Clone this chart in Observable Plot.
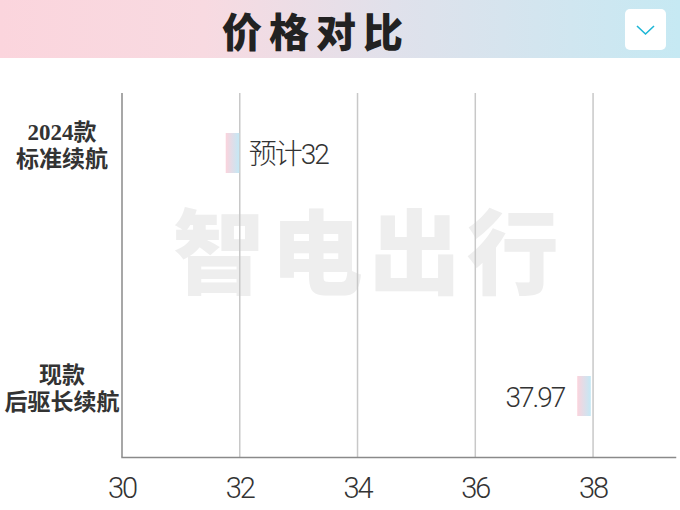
<!DOCTYPE html>
<html>
<head>
<meta charset="utf-8">
<script src="https://cdn.jsdelivr.net/npm/d3@7"></script>
<script src="https://cdn.jsdelivr.net/npm/@observablehq/plot@0.6"></script>
<style>
  html, body { margin: 0; padding: 0; background: #fff; width: 680px; height: 510px; overflow: hidden; }
  #header { position: absolute; left: 0; top: 0; width: 680px; height: 58px;
    background: linear-gradient(to right, #fbd5dd 0%, #f8dae1 30%, #e0e1eb 58%, #c6e9f3 100%); }
  #title { position: absolute; left: 0; width: 632px; top: 8px; height: 44px; text-align: center;
    font-family: "Noto Sans CJK SC", sans-serif; font-weight: 900; font-size: 40px; letter-spacing: 7px; color: #222; line-height: 44px; }
  #drop { position: absolute; left: 625px; top: 9px; width: 41px; height: 41px; background: #fff; border-radius: 5px; }
  #unit { position: absolute; right: 22px; top: 63px; font-family: "Noto Sans CJK SC", sans-serif; font-weight: 300;
    font-size: 25px; color: #333; line-height: 34px; }
  #chart { position: absolute; left: 0; top: 58px; }
</style>
</head>
<body>
<div id="header">
  <div id="title">价格对比</div>
  <div id="drop"><svg width="41" height="41"><polyline points="12,17 20.5,25 29,17" fill="none" stroke="#1db6d6" stroke-width="1.6"/></svg></div>
</div>
<div id="unit">单位:万元</div>
<div id="chart"></div>
<script>
const categories = ["2024款\n标准续航", "现款\n后驱长续航"];
const values = [32, 37.97];
const valueLabels = ["预计32", "37.97"];
const xTicks = [30, 32, 34, 36, 38];
const gridTicks = [32, 34, 36, 38];
const watermark = ["智电出行"];

const data = categories.map((c, i) => ({category: c, value: values[i], label: valueLabels[i]}));

const plot = Plot.plot({
  width: 680,
  height: 452,
  marginTop: 35,
  marginBottom: 53,
  marginLeft: 121.5,
  marginRight: 5,
  style: {background: "#fff", overflow: "visible"},
  x: {domain: [30, 39.4], axis: null, label: null},
  y: {type: "band", domain: categories, range: [74, 358], paddingInner: 0.836, paddingOuter: 0, axis: null},
  marks: [
    Plot.text(watermark, {text: d => d, frameAnchor: "middle", dx: -30, dy: -18, fontSize: 92,
      fontWeight: 900, fontFamily: "Noto Sans CJK SC, sans-serif", fill: "#eeeeee"}),
    Plot.ruleX(gridTicks, {stroke: "#c8c8c8", strokeWidth: 1.5}),
    Plot.ruleX([30], {stroke: "#8a8a8a", strokeWidth: 1.5}),
    Plot.frame({anchor: "bottom", stroke: "#8a8a8a", strokeWidth: 1.5}),
    Plot.axisX(xTicks, {label: null, tickSize: 0, tickPadding: 20, fontSize: 29, fontWeight: 300,
      fontFamily: "Roboto, sans-serif", fill: "#333", stroke: null}),
    Plot.barX(data, {x1: d => d.value - 0.23, x2: "value", y: "category", fill: "url(#barGrad)"}),
    Plot.text(data, {y: "category", text: "category", frameAnchor: "left", dx: -60, dy: -9,
      textAnchor: "middle", lineHeight: 1.2, fontSize: 23, fontWeight: 700,
      fontFamily: "Liberation Serif, Noto Sans CJK SC, serif", fill: "#333"}),
    Plot.text(data, {filter: (d, i) => i === 0, x: "value", y: "category", text: "label",
      textAnchor: "start", dx: 9, dy: 2, fontSize: 28, fontWeight: 300,
      fontFamily: "Roboto, Noto Sans CJK SC, sans-serif", fill: "#333"}),
    Plot.text(data, {filter: (d, i) => i === 1, x: "value", y: "category", text: "label",
      textAnchor: "end", dx: -27, dy: 2, fontSize: 28, fontWeight: 300,
      fontFamily: "Roboto, sans-serif", fill: "#333"})
  ]
});

const svg = d3.select(plot);
const defs = svg.insert("defs", ":first-child");
const grad = defs.append("linearGradient").attr("id", "barGrad").attr("x1", "0").attr("x2", "1").attr("y1", "0").attr("y2", "0");
grad.append("stop").attr("offset", "0%").attr("stop-color", "#fbd3dc");
grad.append("stop").attr("offset", "100%").attr("stop-color", "#c4e8f5");

svg.selectAll('g[aria-label="x-axis tick label"]').style("letter-spacing", "-2px");
const textGroups = plot.querySelectorAll('g[aria-label="text"]');
if (textGroups[0]) textGroups[0].style.letterSpacing = "6px";
if (textGroups[2]) textGroups[2].style.letterSpacing = "-2px";
if (textGroups[3]) textGroups[3].style.letterSpacing = "-2px";

document.getElementById("chart").appendChild(plot);
</script>
</body>
</html>
